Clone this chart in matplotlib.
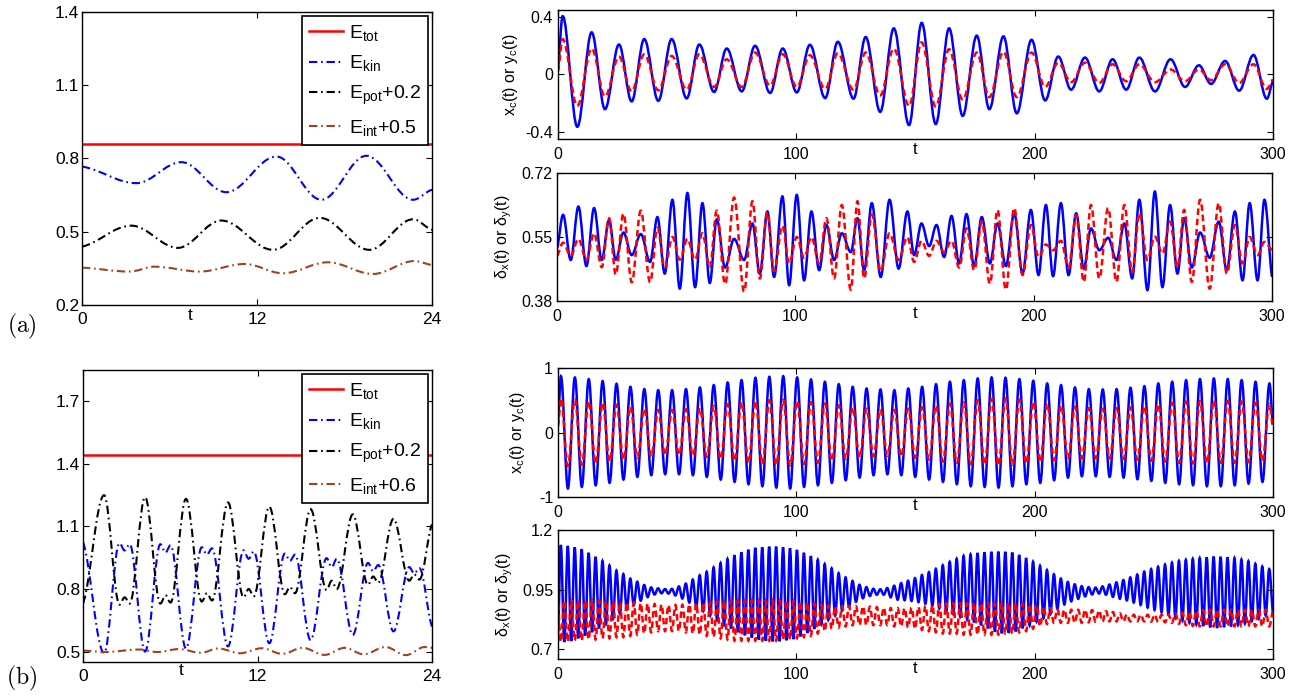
import numpy as np
import matplotlib
matplotlib.use('Agg')
import matplotlib.pyplot as plt
from matplotlib.path import Path
from matplotlib.patches import PathPatch
from matplotlib.lines import Line2D

plt.rcParams['font.family'] = ['Liberation Sans', 'DejaVu Sans']
plt.rcParams['mathtext.fontset'] = 'custom'
plt.rcParams['mathtext.rm'] = 'Liberation Sans'
plt.rcParams['mathtext.it'] = 'Liberation Sans:italic'
plt.rcParams['mathtext.default'] = 'regular'
plt.rcParams['axes.unicode_minus'] = False

# ---------------- (a) energies, t in [0, 24] -----------------
E_TOT_A = 0.861
T_KIN_A = [0, 3.73, 6.81, 9.9, 13.33, 16.41, 19.5, 22.7, 24]
E_KIN_A = [0.767, 0.699, 0.785, 0.662, 0.808, 0.631, 0.811, 0.631, 0.672]
T_POT_A = [0, 3.38, 6.58, 9.55, 13.1, 16.3, 19.7, 22.7, 24]
E_POT_A = [0.439, 0.525, 0.434, 0.546, 0.426, 0.557, 0.426, 0.551, 0.508]
T_INT_A = [0, 3.27, 4.98, 8.07, 11.15, 13.78, 16.87, 19.95, 22.8, 24]
E_INT_A = [0.353, 0.337, 0.357, 0.337, 0.368, 0.330, 0.375, 0.327, 0.380, 0.364]

# ---------------- (b) energies -----------------
E_TOT_B = 1.445
T_B = [0, 1.45, 2.51, 2.86, 3.21, 4.27, 5.32, 5.67, 6.02, 7.08, 8.17, 8.52,
       8.87, 9.97, 11.04, 11.39, 11.74, 12.81, 13.88, 14.23, 14.58, 15.65,
       16.75, 17.1, 17.45, 18.55, 19.6, 19.95, 20.3, 21.35, 22.43, 22.78,
       23.13, 24]
E_POT_B = [0.73, 1.25, 0.725, 0.76, 0.73, 1.24, 0.73, 0.77, 0.735, 1.232,
           0.74, 0.78, 0.745, 1.215, 0.76, 0.80, 0.765, 1.195, 0.775, 0.81,
           0.78, 1.183, 0.795, 0.84, 0.80, 1.158, 0.82, 0.86, 0.83, 1.137,
           0.84, 0.87, 0.845, 1.11]
E_KIN_B = [1.025, 0.493, 1.02, 0.985, 1.015, 0.50, 1.015, 0.975, 1.01, 0.515,
           1.0, 0.965, 0.995, 0.525, 0.985, 0.945, 0.98, 0.54, 0.97, 0.935,
           0.965, 0.555, 0.948, 0.905, 0.945, 0.58, 0.925, 0.885, 0.915, 0.597,
           0.905, 0.875, 0.90, 0.62]
T_INT_B = [0, 1.5, 3.9, 5.1, 6.6, 8.1, 9.3, 10.8, 12.3, 13.7, 15.1, 16.6,
           18.0, 19.3, 20.8, 22.2, 23.5, 24]
E_INT_B = [0.505, 0.498, 0.51, 0.498, 0.512, 0.494, 0.515, 0.492, 0.516,
           0.489, 0.518, 0.484, 0.518, 0.487, 0.522, 0.483, 0.522, 0.518]

# ---------------- (a) centre of mass, extrema -----------------
T_XC_A = [0, 1.96, 8.11, 14.13, 19.72, 25.6, 30.9, 36.2, 42.1, 47.7, 54.0,
          59.3, 65.5, 70.8, 77.1, 82.7, 89.0, 94.3, 100.2, 105.7, 112.1,
          117.4, 124.0, 129.1, 135.2, 140.9, 147.3, 152.6, 158.5, 164.1,
          169.8, 175.7, 181.0, 186.9, 192.5, 198.7, 204.4, 209.9, 215.3,
          221.1, 227.1, 232.7, 238.4, 243.9, 250.5, 257.0, 263.1, 268.9,
          274.0, 279.9, 285.8, 291.8, 297.4, 300]
XC_A = [0.05, 0.407, -0.365, 0.294, -0.242, 0.209, -0.188, 0.247, -0.184,
        0.247, -0.167, 0.209, -0.122, 0.181, -0.118, 0.2, -0.129, 0.181,
        -0.125, 0.207, -0.165, 0.228, -0.169, 0.261, -0.261, 0.322, -0.353,
        0.36, -0.346, 0.322, -0.289, 0.271, -0.242, 0.266, -0.271, 0.242,
        -0.181, 0.125, -0.106, 0.118, -0.118, 0.106, -0.106, 0.118, -0.118,
        0.106, -0.087, 0.064, -0.066, 0.094, -0.113, 0.136, -0.169, -0.047]
YC_A = [0.02, 0.247, -0.219, 0.181, -0.153, 0.125, -0.118, 0.141, -0.111,
        0.129, -0.106, 0.141, -0.087, 0.106, -0.087, 0.153, -0.078, 0.141,
        -0.087, 0.134, -0.101, 0.148, -0.106, 0.153, -0.146, 0.18, -0.219,
        0.224, -0.224, 0.176, -0.176, 0.153, -0.158, 0.158, -0.158, 0.153,
        -0.087, 0.082, -0.054, 0.082, -0.059, 0.071, -0.047, 0.071, -0.054,
        0.035, -0.047, 0.035, -0.040, 0.071, -0.059, 0.071, -0.101, -0.035]

# ---------------- (a) widths, extrema -----------------
T_DL_A = [0, 2.52, 5.74, 8.95, 12.31, 15.53, 18.74, 21.82, 24.62, 27.84,
          31.33, 35.11, 39.03, 42.1, 45.18, 48.4, 51.48, 54.69, 57.91, 60.99,
          64.07, 67.0, 70.5, 74.28, 78.47, 81.97, 85.05, 88.26, 91.06, 94.56,
          97.36, 100.57, 103.65, 106.73, 109.95, 113.02, 116.24, 119.46,
          123.24, 126.03, 128.83, 132.05, 135.8, 139.5, 143.3, 147.0, 149.8,
          152.9, 156.1, 159.2, 162.4, 165.5, 168.7, 171.8, 175.0, 178.2,
          181.6, 184.8, 188.3, 191.8, 195.3, 198.8, 202.0, 205.1, 208.1,
          211.4, 214.6, 217.8, 221.0, 224.0, 227.5, 231.2, 234.7, 238.0,
          241.3, 244.3, 247.7, 250.8, 254.0, 257.2, 260.3, 263.1, 266.3,
          269.8, 273.8, 277.6, 281.0, 284.4, 287.6, 290.6, 293.9, 296.8, 300]
DX_A = [0.52, 0.609, 0.489, 0.631, 0.473, 0.627, 0.489, 0.595, 0.49, 0.562,
        0.502, 0.558, 0.484, 0.603, 0.453, 0.649, 0.413, 0.667, 0.417, 0.640,
        0.428, 0.597, 0.469, 0.545, 0.489, 0.586, 0.453, 0.618, 0.444, 0.658,
        0.422, 0.662, 0.435, 0.618, 0.462, 0.582, 0.489, 0.560, 0.51, 0.60,
        0.462, 0.64, 0.444, 0.649, 0.466, 0.618, 0.502, 0.586, 0.526, 0.582,
        0.497, 0.606, 0.48, 0.611, 0.473, 0.603, 0.48, 0.586, 0.473, 0.613,
        0.453, 0.622, 0.449, 0.635, 0.446, 0.640, 0.449, 0.613, 0.466, 0.573,
        0.515, 0.548, 0.489, 0.586, 0.44, 0.649, 0.409, 0.671, 0.417, 0.635,
        0.453, 0.60, 0.469, 0.562, 0.495, 0.591, 0.462, 0.618, 0.435, 0.64,
        0.435, 0.649, 0.444]
DY_A = [0.50, 0.535, 0.50, 0.545, 0.49, 0.56, 0.47, 0.60, 0.45, 0.612,
        0.43, 0.62, 0.43, 0.575, 0.47, 0.55, 0.49, 0.545, 0.49, 0.56,
        0.47, 0.62, 0.425, 0.655, 0.405, 0.645, 0.44, 0.615, 0.46, 0.58,
        0.48, 0.55, 0.495, 0.55, 0.48, 0.60, 0.44, 0.635, 0.41, 0.645,
        0.44, 0.61, 0.46, 0.56, 0.489, 0.55, 0.484, 0.54, 0.50, 0.54,
        0.51, 0.54, 0.469, 0.573, 0.462, 0.591, 0.426, 0.622, 0.41, 0.627,
        0.449, 0.582, 0.497, 0.53, 0.515, 0.54, 0.469, 0.608, 0.431, 0.635,
        0.44, 0.627, 0.431, 0.635, 0.457, 0.613, 0.489, 0.551, 0.506, 0.591,
        0.47, 0.622, 0.431, 0.649, 0.413, 0.64, 0.453, 0.582, 0.48, 0.55,
        0.502, 0.537, 0.515]

# ---------------- (b) centre of mass, peaks then troughs -----------------
XC_B_START, XC_B_END = 0.14, 0.12
YC_B_START, YC_B_END = 0.09, 0.07
T_XC_B_FIRST, T_XC_B_LAST = 1.26, 298.5
XC_B_PEAKS = [0.873, 0.853, 0.827, 0.796, 0.755, 0.708, 0.672, 0.656, 0.656, 0.672,
              0.698, 0.734, 0.775, 0.811, 0.848, 0.863, 0.873, 0.853, 0.822, 0.786,
              0.749, 0.708, 0.682, 0.667, 0.656, 0.682, 0.708, 0.749, 0.786, 0.811,
              0.837, 0.853, 0.848, 0.827, 0.801, 0.760, 0.734, 0.698, 0.672, 0.667,
              0.672, 0.693, 0.718, 0.760, 0.786, 0.811, 0.827, 0.837, 0.827, 0.811,
              0.786, 0.760]
XC_B_TROUGHS = [-0.868, -0.842, -0.817, -0.780, -0.729, -0.687, -0.661, -0.646, -0.646, -0.661,
                -0.687, -0.729, -0.765, -0.801, -0.832, -0.853, -0.868, -0.842, -0.817, -0.780,
                -0.739, -0.698, -0.661, -0.646, -0.661, -0.687, -0.729, -0.765, -0.801, -0.832,
                -0.842, -0.853, -0.832, -0.801, -0.780, -0.739, -0.698, -0.677, -0.677, -0.687,
                -0.698, -0.724, -0.749, -0.780, -0.801, -0.817, -0.832, -0.832, -0.817, -0.791,
                -0.765]
YC_B_PEAKS = [0.53, 0.51, 0.49, 0.46, 0.43, 0.40, 0.37, 0.35, 0.35, 0.36,
              0.38, 0.41, 0.44, 0.47, 0.49, 0.50, 0.51, 0.49, 0.47, 0.45,
              0.42, 0.39, 0.37, 0.36, 0.35, 0.37, 0.39, 0.42, 0.45, 0.47,
              0.50, 0.52, 0.53, 0.51, 0.48, 0.45, 0.42, 0.40, 0.38, 0.37,
              0.38, 0.39, 0.41, 0.44, 0.46, 0.48, 0.49, 0.50, 0.49, 0.48,
              0.46, 0.44]
YC_B_TROUGHS = [-0.52, -0.50, -0.48, -0.45, -0.42, -0.39, -0.37, -0.35, -0.35, -0.36,
                -0.38, -0.41, -0.44, -0.47, -0.49, -0.50, -0.51, -0.49, -0.47, -0.44,
                -0.41, -0.39, -0.37, -0.36, -0.37, -0.39, -0.42, -0.45, -0.47, -0.49,
                -0.50, -0.51, -0.50, -0.48, -0.46, -0.43, -0.41, -0.40, -0.40, -0.40,
                -0.41, -0.42, -0.44, -0.45, -0.47, -0.48, -0.48, -0.47, -0.47, -0.46,
                -0.44]

# ---------------- (b) widths, peaks then troughs -----------------
DX_B_START, DX_B_END = 0.75, 0.85
DY_B_START, DY_B_END = 0.89, 0.86
T_DL_B_FIRST, T_DL_B_LAST = 1.2, 298.4
DX_B_PEAKS = [1.137, 1.133, 1.127, 1.119, 1.104, 1.087, 1.070, 1.051, 1.030, 1.015,
              0.996, 0.983, 0.969, 0.959, 0.955, 0.952, 0.953, 0.963, 0.975, 0.992,
              1.010, 1.025, 1.043, 1.061, 1.078, 1.094, 1.106, 1.117, 1.125, 1.127,
              1.130, 1.130, 1.127, 1.123, 1.116, 1.104, 1.090, 1.075, 1.057, 1.039,
              1.019, 1.001, 0.986, 0.970, 0.960, 0.953, 0.951, 0.956, 0.966, 0.977,
              0.987, 0.998, 1.011, 1.023, 1.037, 1.052, 1.066, 1.079, 1.091, 1.097,
              1.103, 1.106, 1.108, 1.109, 1.108, 1.105, 1.095, 1.082, 1.067, 1.050,
              1.032, 1.014, 0.996, 0.982, 0.972, 0.964, 0.960, 0.958, 0.963, 0.971,
              0.980, 0.990, 1.001, 1.013, 1.025, 1.036, 1.046, 1.055, 1.063, 1.070,
              1.075, 1.079, 1.082, 1.085, 1.088, 1.087, 1.085, 1.082, 1.076, 1.069,
              1.058, 1.047, 1.036]
DX_B_TROUGHS = [0.730, 0.734, 0.745, 0.757, 0.771, 0.787, 0.805, 0.826, 0.848, 0.866,
                0.884, 0.903, 0.918, 0.929, 0.934, 0.933, 0.925, 0.912, 0.895, 0.877,
                0.858, 0.840, 0.821, 0.801, 0.786, 0.771, 0.758, 0.748, 0.740, 0.735,
                0.732, 0.733, 0.737, 0.742, 0.753, 0.768, 0.785, 0.804, 0.822, 0.840,
                0.861, 0.877, 0.898, 0.913, 0.923, 0.928, 0.928, 0.917, 0.907, 0.905,
                0.902, 0.897, 0.890, 0.882, 0.870, 0.859, 0.847, 0.836, 0.824, 0.812,
                0.800, 0.787, 0.773, 0.766, 0.768, 0.774, 0.787, 0.799, 0.815, 0.830,
                0.847, 0.868, 0.887, 0.900, 0.911, 0.921, 0.929, 0.933, 0.928, 0.919,
                0.911, 0.904, 0.895, 0.885, 0.874, 0.864, 0.854, 0.843, 0.831, 0.820,
                0.811, 0.803, 0.797, 0.791, 0.789, 0.792, 0.795, 0.801, 0.807, 0.818,
                0.828, 0.841]
DY_B_LOW = [0.73, 0.73, 0.735, 0.735, 0.74, 0.74, 0.745, 0.745, 0.75, 0.75,
            0.755, 0.76, 0.765, 0.77, 0.775, 0.775, 0.775, 0.775, 0.77, 0.765,
            0.76, 0.755, 0.75, 0.745, 0.74, 0.735, 0.735, 0.735, 0.735, 0.735,
            0.735, 0.735, 0.74, 0.74, 0.745, 0.75, 0.755, 0.765, 0.775, 0.785,
            0.79, 0.795, 0.80, 0.80, 0.80, 0.80, 0.80, 0.80, 0.795, 0.795,
            0.79, 0.785, 0.78, 0.775, 0.77, 0.765, 0.765, 0.765, 0.76, 0.76,
            0.76, 0.76, 0.76, 0.76, 0.765, 0.765, 0.77, 0.775, 0.785, 0.795,
            0.805, 0.81, 0.81, 0.81, 0.81, 0.81, 0.812, 0.814, 0.815, 0.816,
            0.816, 0.816, 0.816, 0.816, 0.816, 0.815, 0.814, 0.812, 0.81, 0.806,
            0.80, 0.797, 0.795, 0.795, 0.795, 0.795, 0.795, 0.795, 0.795, 0.795,
            0.795, 0.795, 0.795]
DY_B_HIGH = [0.905, 0.905, 0.905, 0.905, 0.905, 0.903, 0.902, 0.900, 0.898, 0.896,
             0.895, 0.893, 0.891, 0.889, 0.887, 0.885, 0.885, 0.886, 0.888, 0.891,
             0.894, 0.897, 0.900, 0.903, 0.905, 0.905, 0.905, 0.905, 0.905, 0.905,
             0.905, 0.905, 0.905, 0.903, 0.900, 0.896, 0.892, 0.887, 0.883, 0.880,
             0.880, 0.880, 0.880, 0.879, 0.878, 0.876, 0.874, 0.872, 0.872, 0.872,
             0.874, 0.877, 0.881, 0.885, 0.889, 0.892, 0.893, 0.893, 0.893, 0.893,
             0.893, 0.893, 0.893, 0.893, 0.893, 0.893, 0.892, 0.889, 0.884, 0.878,
             0.872, 0.867, 0.865, 0.865, 0.865, 0.865, 0.864, 0.862, 0.859, 0.855,
             0.850, 0.846, 0.844, 0.844, 0.844, 0.844, 0.844, 0.845, 0.848, 0.852,
             0.857, 0.861, 0.864, 0.865, 0.865, 0.865, 0.865, 0.865, 0.865, 0.865,
             0.865, 0.865]

# tick labels
T_TICKS_L = [0, 12, 24]
T_TICKS_R = [0, 100, 200, 300]
Y_TICKS_EA = [0.2, 0.5, 0.8, 1.1, 1.4]
Y_TICKS_EB = [0.5, 0.8, 1.1, 1.4, 1.7]
Y_TICKS_XA, Y_LABELS_XA = [-0.4, 0, 0.4], ['-0.4', '0', '0.4']
Y_TICKS_DA, Y_LABELS_DA = [0.38, 0.55, 0.72], ['0.38', '0.55', '0.72']
Y_TICKS_XB, Y_LABELS_XB = [-1, 0, 1], ['-1', '0', '1']
Y_TICKS_DB, Y_LABELS_DB = [0.7, 0.95, 1.2], ['0.7', '0.95', '1.2']

BLUE, RED, BLACK, BROWN = '#0000ff', '#ff0000', '#000000', '#a04418'
DASHDOT = (0, (4, 1.8, 0.8, 1.8))
DASHED = (0, (2.6, 1.5))


def interleave(first, second):
    out = np.empty(len(first) + len(second))
    out[0::2] = first
    out[1::2] = second
    return out


def wave_path(t, v, k=0.36):
    # smooth curve through extrema: flat tangent at every interior point
    t = np.asarray(t, float)
    v = np.asarray(v, float)
    verts = [(t[0], v[0])]
    codes = [Path.MOVETO]
    last = len(t) - 1
    for i in range(last):
        t0, v0, t1, v1 = t[i], v[i], t[i + 1], v[i + 1]
        dt = t1 - t0
        c1 = (t0 + k * dt, v0 + (0.5 * k * (v1 - v0) if i == 0 else 0))
        c2 = (t1 - k * dt, v1 - (0.5 * k * (v1 - v0) if i + 1 == last else 0))
        verts += [c1, c2, (t1, v1)]
        codes += [Path.CURVE4] * 3
    return Path(verts, codes)


def add_wave(ax, t, v, color, lw, ls='-'):
    ax.add_patch(PathPatch(wave_path(t, v), fill=False, edgecolor=color,
                           lw=lw, linestyle=ls))


def style(ax, fs, xpad, ypad):
    ax.tick_params(direction='in', top=True, right=True, length=4, width=0.8,
                   labelsize=fs)
    ax.tick_params(axis='x', pad=xpad)
    ax.tick_params(axis='y', pad=ypad)
    for s in ax.spines.values():
        s.set_linewidth(1.0)


def energy_legend(ax, shift):
    handles = [Line2D([], [], color=RED, lw=1.8),
               Line2D([], [], color=BLUE, lw=1.5, ls=DASHDOT),
               Line2D([], [], color=BLACK, lw=1.5, ls=DASHDOT),
               Line2D([], [], color=BROWN, lw=1.5, ls=DASHDOT)]
    labels = ['E$_{tot}$', 'E$_{kin}$', 'E$_{pot}$+0.2', 'E$_{int}$+%s' % shift]
    leg = ax.legend(handles, labels, loc='upper right', fontsize=14,
                    fancybox=False, edgecolor='black', framealpha=1,
                    borderaxespad=0.2, handlelength=1.75, handletextpad=0.3,
                    labelspacing=0.55, borderpad=0.35)
    leg.get_frame().set_linewidth(1.2)


fig = plt.figure(figsize=(12.97, 6.97), dpi=100)

# ---- (a) energies
ax = fig.add_axes([0.0632, 0.5624, 0.2699, 0.4204])
ax.axhline(E_TOT_A, color=RED, lw=1.8)
add_wave(ax, T_KIN_A, E_KIN_A, BLUE, 1.5, DASHDOT)
add_wave(ax, T_POT_A, E_POT_A, BLACK, 1.5, DASHDOT)
add_wave(ax, T_INT_A, E_INT_A, BROWN, 1.5, DASHDOT)
ax.set_xlim(0, 24)
ax.set_ylim(0.2, 1.4)
ax.set_xticks(T_TICKS_L)
ax.set_yticks(Y_TICKS_EA)
style(ax, 12.5, 5, 2)
ax.set_xlabel('t', fontsize=12.5, va='center')
ax.xaxis.set_label_coords(0.31, -0.035)
energy_legend(ax, '0.5')

# ---- (b) energies
ax = fig.add_axes([0.0640, 0.0502, 0.2691, 0.4189])
ax.axhline(E_TOT_B, color=RED, lw=1.8)
add_wave(ax, T_B, E_KIN_B, BLUE, 1.5, DASHDOT)
add_wave(ax, T_B, E_POT_B, BLACK, 1.5, DASHDOT)
add_wave(ax, T_INT_B, E_INT_B, BROWN, 1.5, DASHDOT)
ax.set_xlim(0, 24)
ax.set_ylim(0.45, 1.85)
ax.set_xticks(T_TICKS_L)
ax.set_yticks(Y_TICKS_EB)
style(ax, 12.5, 5, 2)
ax.set_xlabel('t', fontsize=12.5, va='center')
ax.xaxis.set_label_coords(0.28, -0.03)
energy_legend(ax, '0.6')

# ---- right column
t_xc_b = np.concatenate([[0], np.linspace(T_XC_B_FIRST, T_XC_B_LAST,
                                          len(XC_B_PEAKS) + len(XC_B_TROUGHS)), [300]])
xc_b = np.concatenate([[XC_B_START], interleave(XC_B_PEAKS, XC_B_TROUGHS), [XC_B_END]])
yc_b = np.concatenate([[YC_B_START], interleave(YC_B_PEAKS, YC_B_TROUGHS), [YC_B_END]])
t_dl_b = np.concatenate([[0], np.linspace(T_DL_B_FIRST, T_DL_B_LAST,
                                          len(DX_B_PEAKS) + len(DX_B_TROUGHS)), [300]])
dx_b = np.concatenate([[DX_B_START], interleave(DX_B_PEAKS, DX_B_TROUGHS), [DX_B_END]])
dy_b = np.concatenate([[DY_B_START], interleave(DY_B_LOW, DY_B_HIGH), [DY_B_END]])

panels = [
    ([0.4302, 0.8006, 0.5513, 0.1851], T_XC_A, XC_A, YC_A, (-0.45, 0.45),
     Y_TICKS_XA, Y_LABELS_XA, 'x$_c$(t) or y$_c$(t)', -0.067, -0.085),
    ([0.4295, 0.5681, 0.5513, 0.1836], T_DL_A, DX_A, DY_A, (0.38, 0.72),
     Y_TICKS_DA, Y_LABELS_DA, 'δ$_x$(t) or δ$_y$(t)', -0.074, -0.094),
    ([0.4302, 0.2869, 0.5513, 0.1851], t_xc_b, xc_b, yc_b, (-1, 1),
     Y_TICKS_XB, Y_LABELS_XB, 'x$_c$(t) or y$_c$(t)', -0.056, -0.062),
    ([0.4302, 0.0545, 0.5513, 0.1851], t_dl_b, dx_b, dy_b, (0.658, 1.2),
     Y_TICKS_DB, Y_LABELS_DB, 'δ$_x$(t) or δ$_y$(t)', -0.074, -0.07),
]
for rect, t, blue, red, ylim, yt, ytl, ylab, ylx, tly in panels:
    ax = fig.add_axes(rect)
    add_wave(ax, t, blue, BLUE, 1.8)
    add_wave(ax, t, red, RED, 1.8, DASHED)
    ax.set_xlim(0, 300)
    ax.set_ylim(*ylim)
    ax.set_xticks(T_TICKS_R)
    ax.set_yticks(yt, ytl)
    style(ax, 11.5, 6, 3.5)
    ax.set_ylabel(ylab, fontsize=11.5, va='center')
    ax.yaxis.set_label_coords(ylx, 0.5)
    ax.set_xlabel('t', fontsize=12, va='center')
    ax.xaxis.set_label_coords(0.5, tly)

fig.text(22 / 1297, 1 - 326 / 697, r'$\mathrm{(a)}$', math_fontfamily='cm',
         fontsize=17, ha='center', va='center')
fig.text(22 / 1297, 1 - 678 / 697, r'$\mathrm{(b)}$', math_fontfamily='cm',
         fontsize=17, ha='center', va='center')

fig.savefig('out.png', dpi=100)
